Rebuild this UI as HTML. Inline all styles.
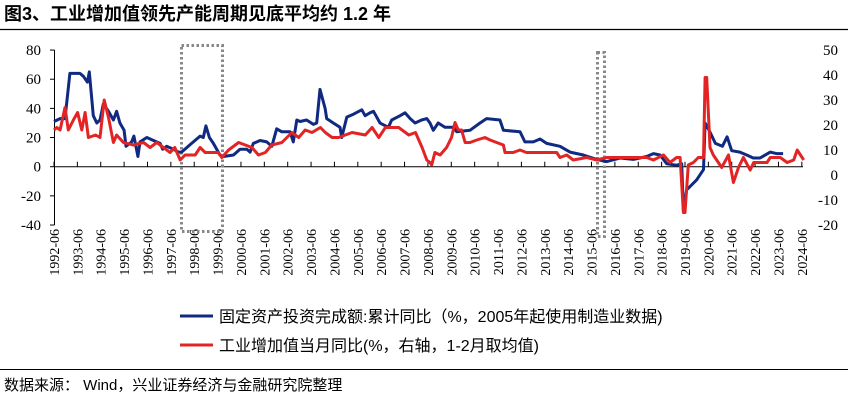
<!DOCTYPE html>
<html><head><meta charset="utf-8"><style>
body{margin:0;width:848px;height:403px;background:#fff;overflow:hidden;font-family:"Liberation Sans","Noto Sans CJK SC",sans-serif}
svg{position:absolute;left:0;top:0}
</style></head><body>
<svg id="c" width="848" height="403">
<text x="4" y="20" font-size="18" font-weight="bold" font-family="Liberation Sans, Noto Sans CJK SC, sans-serif">图3、工业增加值领先产能周期见底平均约 1.2 年</text>
<line x1="0" y1="29.5" x2="848" y2="29.5" stroke="#000" stroke-width="1.2"/>
<line x1="0" y1="369.5" x2="848" y2="369.5" stroke="#000" stroke-width="1"/>
<text x="4" y="390" font-size="15" font-family="Liberation Sans, Noto Sans CJK SC, sans-serif">数据来源：  Wind，兴业证券经济与金融研究院整理</text>
<g>
<line x1="180" y1="316" x2="213" y2="316" stroke="#0f2a80" stroke-width="3"/>
<text x="219" y="322" font-size="16" font-family="Liberation Sans, Noto Sans CJK SC, sans-serif">固定资产投资完成额:累计同比（%，2005年起使用制造业数据)</text>
<line x1="180" y1="345" x2="213" y2="345" stroke="#e32424" stroke-width="3"/>
<text x="219" y="351" font-size="16" font-family="Liberation Sans, Noto Sans CJK SC, sans-serif">工业增加值当月同比(%，右轴，1-2月取均值)</text>
</g>
</svg>
<script>
const leftTicks=[80,60,40,20,0,-20,-40];
const rightTicks=[50,40,30,20,10,0,-10,-20];
const yearLabels=[];for(let y=1992;y<=2024;y++)yearLabels.push(y+'-06');
const faiT=[1992.5,1992.76,1992.97,1993.18,1993.61,1993.76,1993.93,1994.01,1994.18,1994.33,1994.47,1994.61,1994.83,1995.04,1995.18,1995.32,1995.5,1995.58,1995.82,1995.92,1996.09,1996.18,1996.47,1996.89,1997.04,1997.15,1997.32,1997.61,1997.82,1997.96,1998.32,1998.75,1998.89,1999.0,1999.15,1999.32,1999.6,1999.75,2000.18,2000.46,2000.75,2000.89,2001.03,2001.32,2001.6,2001.82,2002.03,2002.24,2002.6,2002.74,2002.89,2003.03,2003.31,2003.6,2003.74,2003.88,2004.1,2004.17,2004.45,2004.74,2004.81,2005.03,2005.31,2005.67,2005.81,2006.02,2006.17,2006.45,2006.81,2006.95,2007.31,2007.52,2007.74,2007.95,2008.23,2008.45,2008.59,2008.73,2008.94,2009.23,2009.59,2009.73,2010.3,2010.73,2011.01,2011.58,2011.73,2012.44,2012.65,2013.01,2013.3,2013.58,2014.15,2014.58,2015.15,2015.72,2016.15,2016.72,2017.29,2017.86,2018.15,2018.43,2018.72,2019.14,2019.36,2019.43,2019.57,2020.0,2020.29,2020.36,2020.53,2020.8,2021.1,2021.3,2021.5,2021.85,2022.14,2022.42,2022.71,2023.15,2023.41,2023.7,2024.13,2024.55];
const faiV=[31,33,33,64,64,62,58,65,35,30,32,43,38,32,38,30,25,14,17,21,7,17,20,17,16,12,14,12,10,10,15,21,20,28,20,16,8,7,8,12,12,10,16,18,17,14,26,24,24,17,32,31,32,29,30,53,40,33,30,27,20,34,36,39,35,37,38,30,27,32,35,37,33,30,32,33,30,25,30,27,27,24,25,30,33,32,25,24,17,17,19,16,14,10,8,5,3.5,6,5,7,9,8,2,1,2,-30,-16,-9,-2,30,25,16,14,20.5,11,10,8,6,6,10,9,9];
const ivaT=[1992.5,1992.62,1992.76,1992.97,1993.11,1993.33,1993.51,1993.69,1993.83,1993.97,1994.28,1994.47,1994.65,1994.83,1995.04,1995.18,1995.47,1995.9,1996.33,1996.61,1996.9,1997.18,1997.47,1997.67,1997.9,1998.11,1998.54,1998.75,1998.97,1999.54,1999.68,1999.97,2000.4,2000.97,2001.25,2001.54,2001.82,2002.25,2002.68,2002.97,2003.25,2003.54,2003.9,2004.11,2004.4,2004.68,2005.25,2005.82,2006.11,2006.4,2006.68,2006.97,2007.25,2007.68,2007.97,2008.25,2008.45,2008.59,2008.66,2008.8,2009.02,2009.3,2009.51,2009.66,2009.8,2009.94,2010.09,2010.3,2010.59,2010.94,2011.16,2011.44,2011.73,2011.8,2012.15,2012.44,2012.72,2013.08,2013.58,2014.01,2014.15,2014.44,2014.72,2015.29,2015.72,2016.15,2016.58,2017.01,2017.44,2017.86,2018.15,2018.58,2018.86,2019.14,2019.29,2019.43,2019.5,2019.64,2019.86,2020.07,2020.29,2020.36,2020.43,2020.57,2020.71,2021.07,2021.36,2021.57,2021.79,2022.0,2022.29,2022.44,2022.72,2023.01,2023.15,2023.44,2023.58,2023.87,2024.15,2024.3,2024.51,2024.58];
const ivaV=[18,19,18,27,18,22,25,18,25,15,16,15,30,23,13,16,13,12,13,11,13,11,9,11,6,8,8,11,9,9,7,10,13,11,8,9,12,13,17,15,18,17,19,17,15,15,17,16,19,15,19,19,19,16,17,11,6,5,4,9,8,11,15,21,18,18,13,13,14,15,14,13,12,9,9,10,9,9,9,9,7,8,6,7,6,7,7,7,7,7,6,8,5,7,7,-15,-15,4,5,7,7,39,39,11,8,3,8,-3,3,7,2,5,5,5,7,7,7,5,6,10,7,6];
const NS='http://www.w3.org/2000/svg';
const svg=document.getElementById('c');
const X=t=>54+(t-1992.5)*23.37;
const YL=v=>166.7-v*1.458;
const YR=v=>175-v*2.5;
function el(tag,attrs,parent){const e=document.createElementNS(NS,tag);for(const k in attrs)e.setAttribute(k,attrs[k]);(parent||svg).appendChild(e);return e;}
const ax=el('g',{});


const yAxis=el('line',{x1:54.5,y1:YL(80),x2:54.5,y2:YL(-40),stroke:'#000','stroke-width':1},ax);


leftTicks.forEach(v=>{
 el('line',{x1:50,x2:54.5,y1:YL(v),y2:YL(v),stroke:'#000'},ax);
 const t=el('text',{x:41,y:YL(v)+5,'text-anchor':'end','font-size':15,'font-family':'Liberation Serif, serif'},ax);
 t.textContent=v;
 
 
});
rightTicks.forEach(v=>{
 const t=el('text',{x:838,y:YR(v)+5,'text-anchor':'end','font-size':15,'font-family':'Liberation Serif, serif'},ax);
 t.textContent=v;
 
 
});
const xAxis=el('line',{x1:54,y1:YL(0),x2:803,y2:YL(0),stroke:'#000','stroke-width':1},ax);


yearLabels.forEach((lab,i)=>{
 const x=X(1992.5+i);
 el('line',{x1:x,x2:x,y1:YL(0),y2:YL(0)-5,stroke:'#000'},ax);
 const t=el('text',{transform:`translate(${x+5},229) rotate(-90)`,'text-anchor':'end','font-size':14,'font-family':'Liberation Serif, serif'},ax);
 t.textContent=lab;
 
 
});
const b1=el('rect',{x:181.5,y:45.5,width:41,height:186,fill:'none',stroke:'#888','stroke-width':3,'stroke-dasharray':'2.5 2.5'});


const b2=el('rect',{x:597.5,y:52.5,width:7,height:184,fill:'none',stroke:'#888','stroke-width':3,'stroke-dasharray':'2.5 2.5'});


const p1=el('path',{d:faiT.map((t,i)=>(i?'L':'M')+X(t).toFixed(1)+','+YL(faiV[i]).toFixed(1)).join(''),fill:'none',stroke:'#0f2a80','stroke-width':3,'stroke-linejoin':'round'});


const p2=el('path',{d:ivaT.map((t,i)=>(i?'L':'M')+X(t).toFixed(1)+','+YR(ivaV[i]).toFixed(1)).join(''),fill:'none',stroke:'#e32424','stroke-width':3,'stroke-linejoin':'round'});


</script>
</body></html>
